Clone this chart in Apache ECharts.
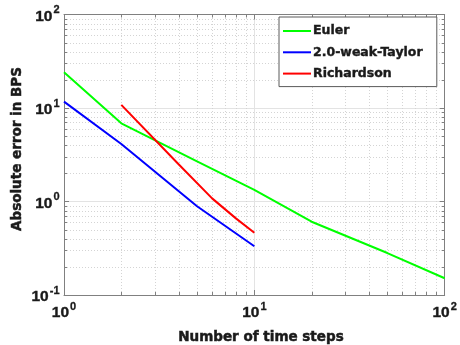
<!DOCTYPE html>
<html>
<head>
<meta charset="utf-8">
<script src="https://cdn.jsdelivr.net/npm/echarts@6/dist/echarts.min.js"></script>
<style>
html,body{margin:0;padding:0;background:#fff;}
#chart{width:460px;height:345px;}
</style>
</head>
<body>
<div id="chart"></div>
<script>
// ---- data ----
var eulerX = [1, 2, 5, 10, 20, 50, 100];
var eulerY = [24.1, 6.86, 2.69, 1.33, 0.608, 0.281, 0.151];
var taylorX = [1, 2, 5, 10];
var taylorY = [11.7, 4.12, 0.89, 0.332];
var richX = [2, 4, 6, 8, 10];
var richY = [10.8, 2.50, 1.08, 0.66, 0.464];
var seriesNames = ['Euler', '2.0-weak-Taylor', 'Richardson'];
var xTitle = 'Number of time steps';
var yTitle = 'Absolute error in BPS';
var xRange = [1, 100];
var yRange = [0.1, 100];
var minorMultipliers = [2, 3, 4, 5, 6, 7, 8, 9];
var xDecades = [1, 10];
var yDecades = [0.1, 1, 10];

function pairs(xs, ys) { return xs.map(function (x, i) { return [x, ys[i]]; }); }
function minorVals(decades) {
  var out = [];
  decades.forEach(function (d) { minorMultipliers.forEach(function (m) { out.push(+(d * m).toPrecision(6)); }); });
  return out;
}
var xMinor = minorVals(xDecades);
var yMinor = minorVals(yDecades);

var FONT = '"Liberation Sans", Arial, sans-serif';
var WFONT = '"DejaVu Sans", sans-serif';
var TXT = '#1a1a1a';
var AX = '#808080';

function powLabel(v) {
  var e = Math.round(Math.log10(v));
  return '{b|10}{e|' + e + '}';
}
var richLabel = {
  b: { fontSize: 15.5, fontWeight: 'bold', fontFamily: FONT, color: TXT, verticalAlign: 'bottom', lineHeight: 20, textBorderColor: TXT, textBorderWidth: 0.4 },
  e: { fontSize: 11, fontWeight: 'bold', fontFamily: FONT, color: TXT, verticalAlign: 'top', lineHeight: 12, padding: [0, 0, 0, 1], textBorderColor: TXT, textBorderWidth: 0.3 }
};

var chart = echarts.init(document.getElementById('chart'), null, { renderer: 'canvas' });

var option = {
  animation: false,
  backgroundColor: '#fff',
  grid: { left: 64, top: 14.5, right: 14, bottom: 50, containLabel: false },
  legend: {
    orient: 'vertical',
    left: 279, top: 17,
    data: seriesNames,
    icon: 'rect',
    itemWidth: 28, itemHeight: 2,
    itemGap: 5.3,
    padding: [6, 14, 5, 4],
    backgroundColor: '#fff',
    borderColor: '#5a5a5a', borderWidth: 1,
    textStyle: { fontFamily: WFONT, fontWeight: 'bold', fontSize: 12.5, color: TXT, lineHeight: 16, padding: [0, 0, 0, -3], textBorderColor: TXT, textBorderWidth: 0.4 },
    selectedMode: false
  },
  xAxis: [{
    type: 'log', logBase: 10, min: xRange[0], max: xRange[1],
    axisLine: { show: true, lineStyle: { color: AX, width: 1 } },
    axisTick: { show: true, inside: true, length: 5, lineStyle: { color: AX } },
    axisLabel: { formatter: powLabel, rich: richLabel, margin: 6 },
    splitLine: { show: true, lineStyle: { color: '#e3e3e3', width: 1 } }
  }, {
    type: 'log', logBase: 10, min: xRange[0], max: xRange[1], position: 'top',
    axisLine: { show: true, lineStyle: { color: AX, width: 1 } },
    axisTick: { show: true, inside: true, length: 5, lineStyle: { color: AX } },
    axisLabel: { show: false }, splitLine: { show: false }
  }],
  yAxis: [{
    type: 'log', logBase: 10, min: yRange[0], max: yRange[1],
    axisLine: { show: true, lineStyle: { color: AX, width: 1 } },
    axisTick: { show: true, inside: true, length: 5, lineStyle: { color: AX } },
    axisLabel: { formatter: powLabel, rich: richLabel, margin: 4.5 },
    splitLine: { show: true, lineStyle: { color: '#e3e3e3', width: 1 } }
  }, {
    type: 'log', logBase: 10, min: yRange[0], max: yRange[1], position: 'right',
    axisLine: { show: true, lineStyle: { color: AX, width: 1 } },
    axisTick: { show: true, inside: true, length: 5, lineStyle: { color: AX } },
    axisLabel: { show: false }, splitLine: { show: false }
  }],
  series: [
    {
      type: 'custom', silent: true, z: 1, xAxisIndex: 0, yAxisIndex: 0,
      data: [[xRange[0], yRange[0]]],
      renderItem: function (params, api) {
        var ch = [];
        var gs = { stroke: '#d4d4d4', lineWidth: 1, lineDash: [1, 2] };
        var ts = { stroke: AX, lineWidth: 1 };
        xMinor.forEach(function (v) {
          var a = api.coord([v, yRange[0]]), b = api.coord([v, yRange[1]]);
          var x = Math.round(a[0]) + 0.5;
          ch.push({ type: 'line', shape: { x1: x, y1: a[1], x2: x, y2: b[1] }, style: gs });
          ch.push({ type: 'line', shape: { x1: x, y1: a[1], x2: x, y2: a[1] - 3 }, style: ts });
          ch.push({ type: 'line', shape: { x1: x, y1: b[1], x2: x, y2: b[1] + 3 }, style: ts });
        });
        yMinor.forEach(function (v) {
          var a = api.coord([xRange[0], v]), b = api.coord([xRange[1], v]);
          var y = Math.round(a[1]) + 0.5;
          ch.push({ type: 'line', shape: { x1: a[0], y1: y, x2: b[0], y2: y }, style: gs });
          ch.push({ type: 'line', shape: { x1: a[0], y1: y, x2: a[0] + 3, y2: y }, style: ts });
          ch.push({ type: 'line', shape: { x1: b[0], y1: y, x2: b[0] - 3, y2: y }, style: ts });
        });
        return { type: 'group', children: ch };
      }
    },
    {
      name: seriesNames[0], type: 'line', data: pairs(eulerX, eulerY),
      showSymbol: false, symbol: 'none', z: 3,
      lineStyle: { color: '#00ff00', width: 2 }, itemStyle: { color: '#00ff00' }
    },
    {
      name: seriesNames[1], type: 'line', data: pairs(taylorX, taylorY),
      showSymbol: false, symbol: 'none', z: 3,
      lineStyle: { color: '#0000ff', width: 2 }, itemStyle: { color: '#0000ff' }
    },
    {
      name: seriesNames[2], type: 'line', data: pairs(richX, richY),
      showSymbol: false, symbol: 'none', z: 3,
      lineStyle: { color: '#ff0000', width: 2 }, itemStyle: { color: '#ff0000' }
    }
  ],
  graphic: [
    {
      type: 'text', x: 261, y: 337.5,
      style: { text: xTitle, textAlign: 'center', textVerticalAlign: 'middle', font: 'bold 13.5px ' + WFONT, fill: TXT, stroke: TXT, lineWidth: 0.5 }
    },
    {
      type: 'text', rotation: Math.PI / 2, x: 17, y: 149,
      style: { text: yTitle, textAlign: 'center', textVerticalAlign: 'middle', font: 'bold 13.5px ' + WFONT, fill: TXT, stroke: TXT, lineWidth: 0.5 }
    }
  ]
};
chart.setOption(option);
</script>
</body>
</html>
